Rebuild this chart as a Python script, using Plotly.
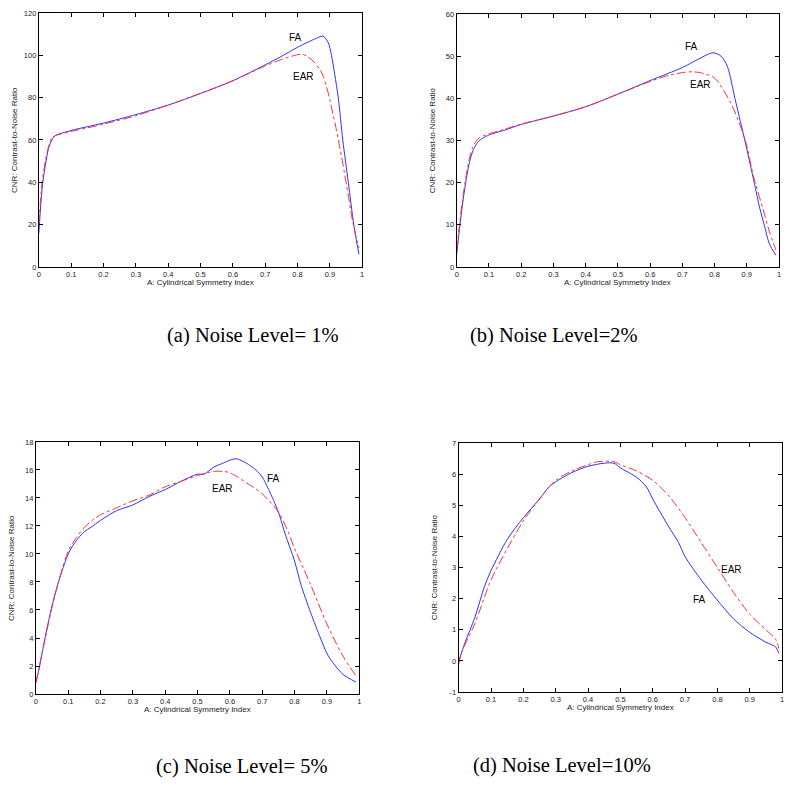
import plotly.graph_objects as go

# ---------------- data ----------------
# (a) Noise level 1%
a_fa_x = [0, 0.01, 0.02, 0.03, 0.04, 0.05, 0.1, 0.2, 0.3, 0.4, 0.5, 0.6, 0.7, 0.75, 0.8, 0.85, 0.87, 0.88,
          0.895, 0.905, 0.915, 0.926, 0.94, 0.957, 0.974, 0.99]
a_fa_y = [16, 37, 48, 56, 60, 62, 64.5, 68, 72, 76.5, 82, 88, 95.5, 99.5, 103.8, 107.5, 108.8, 109,
          106, 100, 91, 80, 60, 40, 20, 6]
a_ear_x = [0, 0.01, 0.02, 0.03, 0.04, 0.05, 0.1, 0.2, 0.3, 0.4, 0.5, 0.6, 0.7, 0.75, 0.8, 0.815, 0.83, 0.85,
           0.87, 0.88, 0.89, 0.9, 0.91, 0.92, 0.93, 0.94, 0.95, 0.96, 0.97, 0.98, 0.99]
a_ear_y = [20, 40, 50, 57, 61, 62, 64, 67.5, 71.5, 76.5, 82, 88, 95, 98, 100.3, 100.5, 99.5, 97,
           93, 90, 85, 79, 72, 65, 57, 49, 40, 31, 22, 15, 9]

# (b) Noise level 2%
b_fa_x = [0, 0.01, 0.02, 0.03, 0.04, 0.05, 0.06, 0.07, 0.08, 0.1, 0.15, 0.2, 0.3, 0.4, 0.5, 0.6, 0.7, 0.75,
          0.795, 0.82, 0.84, 0.863, 0.88, 0.894, 0.91, 0.923, 0.94, 0.954, 0.97, 0.99]
b_fa_y = [3, 10, 16, 21, 25, 27.5, 29, 30, 30.5, 31.3, 32.5, 33.8, 35.8, 38, 41, 44.2, 47.3, 49.3,
          50.8, 50, 47.5, 40, 34.5, 30, 24.5, 20, 14, 10, 5.5, 2.8]
b_ear_x = [0, 0.01, 0.02, 0.03, 0.04, 0.05, 0.06, 0.07, 0.1, 0.15, 0.2, 0.3, 0.4, 0.5, 0.6, 0.65, 0.7, 0.73,
           0.76, 0.8, 0.85, 0.88, 0.9, 0.92, 0.95, 0.97, 0.99]
b_ear_y = [4, 11, 17, 22, 26, 28.5, 29.8, 30.6, 31.6, 32.7, 33.9, 35.8, 38, 41, 44, 45.3, 46.1, 46.3,
           46, 44.8, 38.9, 33.4, 28.7, 21.7, 13.8, 8.4, 4.1]

# (c) Noise level 5%
c_fa_x = [0, 0.01, 0.02, 0.03, 0.05, 0.07, 0.1, 0.12, 0.15, 0.17, 0.2, 0.25, 0.3, 0.35, 0.4, 0.45, 0.5, 0.52,
          0.55, 0.58, 0.6, 0.62, 0.65, 0.68, 0.7, 0.72, 0.75, 0.77, 0.8, 0.82, 0.85, 0.88, 0.9, 0.92, 0.95, 0.99]
c_fa_y = [0.8, 1.8, 3, 4.2, 6.3, 8, 10, 10.8, 11.6, 11.9, 12.4, 13.1, 13.5, 14.1, 14.6, 15.2, 15.7, 15.7,
          16.2, 16.5, 16.7, 16.8, 16.5, 16, 15.5, 14.6, 13, 11.5, 9.5, 7.8, 5.8, 4, 2.9, 2.2, 1.4, 0.85]
c_ear_x = [0, 0.02, 0.05, 0.07, 0.1, 0.12, 0.15, 0.18, 0.2, 0.25, 0.3, 0.35, 0.4, 0.45, 0.5, 0.55, 0.58,
           0.6, 0.65, 0.7, 0.75, 0.78, 0.8, 0.85, 0.9, 0.95, 0.99]
c_ear_y = [0.8, 3, 6.2, 8, 10.2, 11, 11.9, 12.5, 12.8, 13.3, 13.8, 14.2, 14.8, 15.2, 15.6, 15.9, 15.9,
           15.8, 15.1, 14.3, 13, 11.6, 10.4, 7.8, 5.0, 2.7, 1.3]

# (d) Noise level 10%
d_fa_x = [0, 0.01, 0.02, 0.05, 0.08, 0.1, 0.15, 0.2, 0.25, 0.28, 0.3, 0.35, 0.4, 0.45, 0.48, 0.5, 0.55,
          0.58, 0.6, 0.65, 0.68, 0.7, 0.75, 0.8, 0.85, 0.9, 0.95, 0.98, 0.99]
d_fa_y = [0, 0.3, 0.6, 1.4, 2.4, 2.9, 3.9, 4.6, 5.2, 5.6, 5.75, 6.05, 6.25, 6.35, 6.35, 6.2, 5.9,
          5.6, 5.2, 4.3, 3.8, 3.35, 2.6, 1.95, 1.35, 0.92, 0.6, 0.45, 0.25]
d_ear_x = [0, 0.01, 0.05, 0.1, 0.15, 0.2, 0.25, 0.3, 0.35, 0.4, 0.43, 0.48, 0.5, 0.55, 0.6, 0.65, 0.7,
           0.75, 0.8, 0.85, 0.9, 0.95, 0.98, 0.99]
d_ear_y = [-0.1, 0.3, 1.2, 2.6, 3.6, 4.5, 5.2, 5.8, 6.1, 6.3, 6.4, 6.4, 6.3, 6.1, 5.8, 5.3, 4.6,
           3.8, 3.0, 2.2, 1.5, 1.0, 0.7, 0.4]

x_ticks = [0, 0.1, 0.2, 0.3, 0.4, 0.5, 0.6, 0.7, 0.8, 0.9, 1]
x_tick_labels = ["0", "0.1", "0.2", "0.3", "0.4", "0.5", "0.6", "0.7", "0.8", "0.9", "1"]
y_ticks = {
    "a": [0, 20, 40, 60, 80, 100, 120],
    "b": [0, 10, 20, 30, 40, 50, 60],
    "c": [0, 2, 4, 6, 8, 10, 12, 14, 16, 18],
    "d": [-1, 0, 1, 2, 3, 4, 5, 6, 7],
}
y_ranges = {"a": [0, 120], "b": [0, 60], "c": [0, 18], "d": [-1, 7]}
captions = {
    "a": "(a) Noise Level= 1%",
    "b": "(b) Noise Level=2%",
    "c": "(c) Noise Level= 5%",
    "d": "(d) Noise Level=10%",
}
label_pos = {  # (FA x, FA y, EAR x, EAR y) in data coords
    "a": (0.793, 108.6, 0.819, 90),
    "b": (0.728, 52.2, 0.755, 43.2),
    "c": (0.736, 15.4, 0.577, 14.7),
    "d": (0.746, 1.98, 0.845, 2.95),
}
x_title = "A: Cylindrical Symmetry Index"
y_title = "CNR: Contrast-to-Noise Ratio"

# ---------------- layout geometry (page pixels) ----------------
OFF = 8            # page body margin
W, H = 800 - 2 * OFF, 793 - 2 * OFF
boxes = {  # left, right, top, bottom in page pixels
    "a": (37, 362, 9, 266),
    "b": (457, 781, 10, 266),
    "c": (34, 359, 443, 698),
    "d": (459, 784, 444, 696),
}
caption_xy = {"a": (252, 335), "b": (555, 335), "c": (241, 771), "d": (563, 770)}


def px(xp):
    return (xp - OFF) / W


def py(yp):
    return 1 - (yp - OFF) / H


series = {
    "a": (a_fa_x, a_fa_y, a_ear_x, a_ear_y),
    "b": (b_fa_x, b_fa_y, b_ear_x, b_ear_y),
    "c": (c_fa_x, c_fa_y, c_ear_x, c_ear_y),
    "d": (d_fa_x, d_fa_y, d_ear_x, d_ear_y),
}

fig = go.Figure()
annotations = []
tick_font = dict(family="Liberation Sans, Arial", size=7.5, color="#222")
for i, k in enumerate(["a", "b", "c", "d"]):
    n = "" if i == 0 else str(i + 1)
    xa, ya = "x" + n, "y" + n
    fx, fy, ex, ey = series[k]
    fig.add_trace(go.Scatter(x=fx, y=fy, mode="lines", xaxis=xa, yaxis=ya,
                             line=dict(color="#3030ff", width=1), line_shape="spline",
                             line_smoothing=0.8, showlegend=False))
    fig.add_trace(go.Scatter(x=ex, y=ey, mode="lines", xaxis=xa, yaxis=ya,
                             line=dict(color="#ff3030", width=1, dash="dashdot"), line_shape="spline",
                             line_smoothing=0.8, showlegend=False))
    l, r, t, b = boxes[k]
    axis_common = dict(showline=True, linecolor="black", linewidth=1, mirror="ticks",
                       ticks="inside", ticklen=4, tickcolor="black", showgrid=False,
                       zeroline=False, tickfont=tick_font)
    fig.update_layout({
        "xaxis" + n: dict(domain=[px(l), px(r)], range=[0, 1], anchor=ya,
                          tickvals=x_ticks, ticktext=x_tick_labels, **axis_common),
        "yaxis" + n: dict(domain=[py(b), py(t)], range=y_ranges[k], anchor=xa,
                          tickvals=y_ticks[k], ticktext=[str(v) for v in y_ticks[k]], **axis_common),
    })
    fxl, fyl, exl, eyl = label_pos[k]
    annotations.append(dict(x=fxl, y=fyl, xref=xa, yref=ya, text="FA", showarrow=False,
                            xanchor="center", yanchor="middle",
                            font=dict(family="Liberation Sans, Arial", size=10, color="black")))
    annotations.append(dict(x=exl, y=eyl, xref=xa, yref=ya, text="EAR", showarrow=False,
                            xanchor="center", yanchor="middle",
                            font=dict(family="Liberation Sans, Arial", size=10, color="black")))
    # axis titles
    annotations.append(dict(x=px((l + r) / 2), y=py(b + 16), xref="paper", yref="paper",
                            text=x_title, showarrow=False, xanchor="center", yanchor="middle",
                            font=dict(family="Liberation Sans, Arial", size=8, color="#222")))
    annotations.append(dict(x=px(l - 24), y=py((t + b) / 2), xref="paper", yref="paper",
                            text=y_title, showarrow=False, textangle=-90, xanchor="center",
                            yanchor="middle",
                            font=dict(family="Liberation Sans, Arial", size=8, color="#222")))
    cx, cy = caption_xy[k]
    annotations.append(dict(x=px(cx), y=py(cy), xref="paper", yref="paper", text=captions[k],
                            showarrow=False, xanchor="center", yanchor="middle",
                            font=dict(family="Liberation Serif, Times New Roman", size=20.5,
                                      color="black")))

fig.update_layout(width=W, height=H, margin=dict(l=0, r=0, t=0, b=0),
                  paper_bgcolor="white", plot_bgcolor="white", annotations=annotations)
fig.write_html("out.html")
